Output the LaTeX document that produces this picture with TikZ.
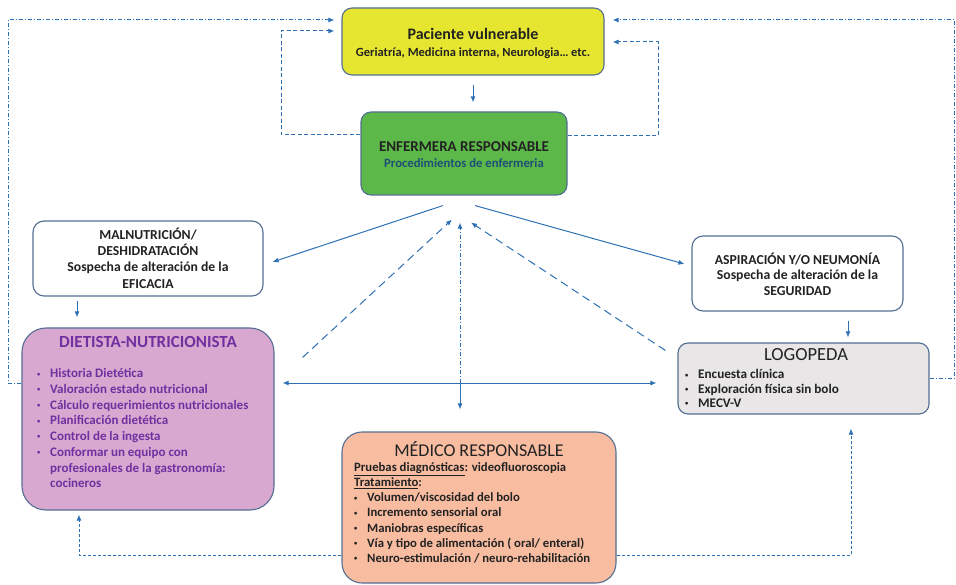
\documentclass[tikz,border=0pt]{standalone}
\usepackage{fontspec}
\setmainfont{Carlito}
\usetikzlibrary{arrows.meta}

\definecolor{boxline}{RGB}{84,110,146}
\definecolor{arrowblue}{RGB}{46,112,180}
\definecolor{pacfill}{RGB}{230,230,48}
\definecolor{enffill}{RGB}{92,184,72}
\definecolor{dietfill}{RGB}{216,168,208}
\definecolor{logofill}{RGB}{232,230,231}
\definecolor{medfill}{RGB}{248,188,160}
\definecolor{purpletxt}{RGB}{112,48,160}
\definecolor{darktxt}{RGB}{34,34,34}
\definecolor{procblue}{RGB}{31,78,121}

\newcommand\bul{\makebox[13pt][l]{\raisebox{1.8pt}{\fontsize{6.5}{6.5}\selectfont\textbullet}}}

\tikzset{
  box/.style={draw=boxline, line width=1.1pt, inner sep=0pt},
  txt/.style={inner sep=0pt, text=darktxt},
  link/.style={draw=arrowblue, line width=1pt, -{Latex[length=6pt,width=5pt]}},
  bothlink/.style={draw=arrowblue, line width=1pt, {Latex[length=6pt,width=5pt]}-{Latex[length=6pt,width=5pt]}},
  longdash/.style={link, dash pattern=on 8pt off 5pt},
  dashdot/.style={link, dash pattern=on 4pt off 2pt on 1pt off 2pt},
  shortdash/.style={link, dash pattern=on 4pt off 2.5pt},
  finedash/.style={link, dash pattern=on 3pt off 2pt},
}

\begin{document}
\begin{tikzpicture}[x=1pt,y=-1pt]
\useasboundingbox (0,0) rectangle (956,585);

% ---- boxes ----
\node[box, fill=pacfill, rounded corners=10pt, minimum width=262pt, minimum height=67pt] (pac) at (473,41.5) {};
\node[box, fill=enffill, rounded corners=10pt, minimum width=206pt, minimum height=83pt] (enf) at (464,153.5) {};
\node[box, fill=white, rounded corners=11pt, minimum width=230pt, minimum height=75pt] (mal) at (148,258.5) {};
\node[box, fill=white, rounded corners=11pt, minimum width=211pt, minimum height=75pt] (asp) at (797.5,273.5) {};
\node[box, fill=dietfill, rounded corners=24pt, minimum width=252pt, minimum height=182pt] (diet) at (148,419) {};
\node[box, fill=logofill, rounded corners=10pt, minimum width=251pt, minimum height=71pt] (logo) at (803.5,378.5) {};
\node[box, fill=medfill, rounded corners=20pt, minimum width=274pt, minimum height=151pt] (med) at (479,507.5) {};

% ---- texts ----
\node[txt, font=\bfseries\fontsize{16}{19}\selectfont] (pacA) at (473,34) {Paciente vulnerable};
\node[txt, font=\bfseries\fontsize{12.5}{15}\selectfont] (pacB) at (473,53) {Geriatría, Medicina interna, Neurologia… etc.};

\node[txt, font=\bfseries\fontsize{15}{18}\selectfont] (enfA) at (464,147) {ENFERMERA RESPONSABLE};
\node[txt, text=procblue, font=\bfseries\fontsize{12.7}{15}\selectfont] (enfB) at (464,163) {Procedimientos de enfermeria};

\node[txt, align=center, font=\bfseries\fontsize{13.7}{16.3}\selectfont] (malT) at (148,258) {MALNUTRICIÓN/\\DESHIDRATACIÓN\\Sospecha de alteración de la\\EFICACIA};

\node[txt, align=center, font=\bfseries\fontsize{13.7}{15.5}\selectfont] (aspT) at (797.5,274) {ASPIRACIÓN Y/O NEUMONÍA\\Sospecha de alteración de la\\SEGURIDAD};

\node[txt, text=purpletxt, font=\bfseries\fontsize{17}{20}\selectfont] (dietA) at (148,342) {DIETISTA-NUTRICIONISTA};
\node[txt, text=purpletxt, anchor=north west, align=left, font=\bfseries\fontsize{13}{15.7}\selectfont] (dietB) at (37,368.5)
  {\bul Historia Dietética\\
   \bul Valoración estado nutricional\\
   \bul Cálculo requerimientos nutricionales\\
   \bul Planificación dietética\\
   \bul Control de la ingesta\\
   \bul Conformar un equipo con\\
   \hspace*{13pt}profesionales de la gastronomía:\\
   \hspace*{13pt}cocineros};

\node[txt, font=\fontsize{18.5}{22}\selectfont] (logoA) at (806,355) {LOGOPEDA};
\node[txt, anchor=north west, align=left, font=\bfseries\fontsize{13.2}{14.3}\selectfont] (logoB) at (685,369.5)
  {\bul Encuesta clínica\\
   \bul Exploración física sin bolo\\
   \bul MECV-V};

\node[txt, font=\fontsize{18}{21}\selectfont] (medA) at (479,449) {MÉDICO RESPONSABLE};
\node[txt, anchor=north west, align=left, font=\bfseries\fontsize{12.7}{15.1}\selectfont] (medB) at (354,462.5)
  {\underline{Pruebas diagnósticas}: videofluoroscopia\\
   \underline{Tratamiento}:\\
   \bul Volumen/viscosidad del bolo\\
   \bul Incremento sensorial oral\\
   \bul Maniobras específicas\\
   \bul Vía y tipo de alimentación ( oral/ enteral)\\
   \bul Neuro-estimulación / neuro-rehabilitación};

% ---- helper points ----
\coordinate (hub) at (460,383);
\coordinate (loopL) at (8,20);
\coordinate (loopR) at (954.5,20);
\coordinate (enfL) at (281,31);
\coordinate (enfR) at (658,42);
\coordinate (botL) at (79,555);
\coordinate (botR) at (851,555);

% ---- solid connectors ----
\draw[link, shorten <=9pt, shorten >=9pt] (pac.south) -- (pac.south |- enf.north);
\draw[link] ([xshift=-21pt,yshift=-10pt]enf.south) -- ([xshift=9pt,yshift=-3.5pt]mal.east);
\draw[link] ([xshift=11pt,yshift=-10pt]enf.south) -- ([xshift=-7pt,yshift=9.5pt]asp.west);
\draw[link, shorten <=4pt, shorten >=10pt] ([xshift=-71pt]mal.south) -- ([xshift=-71pt]mal.south |- diet.north);
\draw[link, shorten <=9pt, shorten >=5pt] ([xshift=50.5pt]asp.south) -- ([xshift=50.5pt]asp.south |- logo.north);
\draw[bothlink, shorten <=8pt, shorten >=21pt] (hub -| diet.east) -- (hub -| logo.west);
\draw[link, shorten >=22pt] (hub) -- (hub |- med.north);

% ---- dashed connectors back to the nurse ----
\draw[dashdot, shorten >=27pt] (hub) -- (hub |- enf.south);
\draw[longdash] ([xshift=28pt,yshift=-30pt]diet.north east) -- ([xshift=-12pt,yshift=-24pt]enf.south);
\draw[longdash] ([xshift=-12pt,yshift=-8pt]logo.north west) -- ([xshift=7pt,yshift=-27pt]enf.south);

% ---- feedback loops to the patient ----
\draw[dashdot, shorten >=7pt] (hub -| diet.west) -| (loopL) -- (loopL -| pac.west);
\draw[dashdot, shorten >=8pt] (logo.east) -| (loopR) -- (loopR -| pac.east);
\draw[shortdash, shorten >=7pt] ([yshift=19pt]enf.west) -| (enfL) -- (enfL -| pac.west);
\draw[shortdash, shorten >=8pt] ([yshift=18pt]enf.east) -| (enfR) -- (enfR -| pac.east);

% ---- loops from the physician ----
\draw[finedash, shorten >=4pt] (botL -| med.west) -| (botL |- diet.south);
\draw[finedash, shorten >=14pt] (botR -| med.east) -| (botR |- logo.south);
\end{tikzpicture}
\end{document}
